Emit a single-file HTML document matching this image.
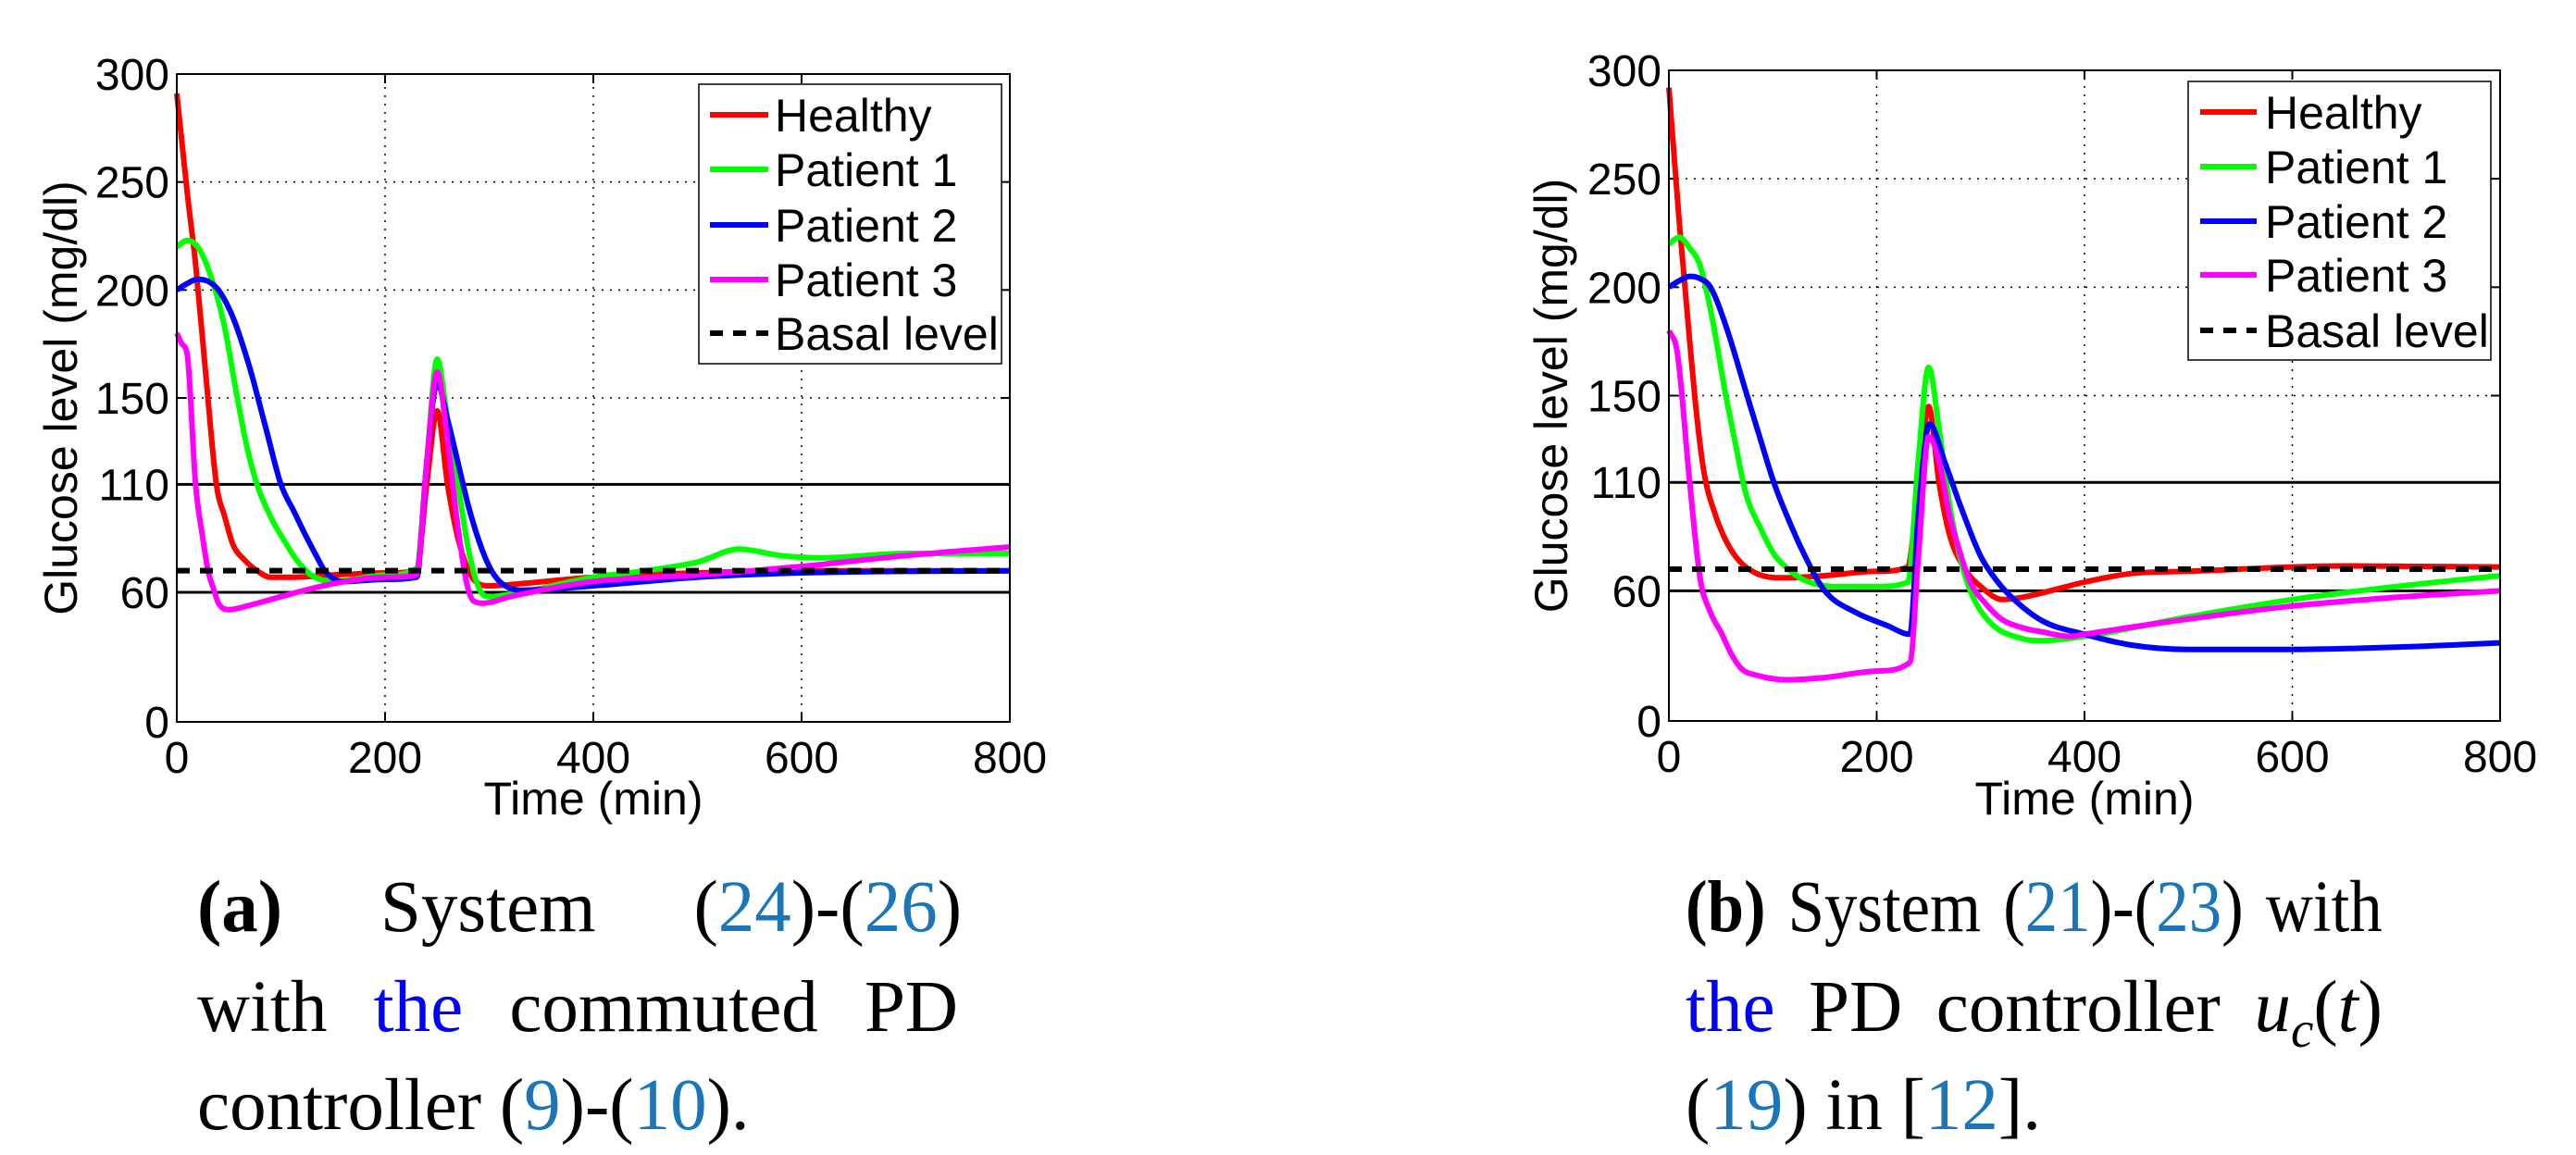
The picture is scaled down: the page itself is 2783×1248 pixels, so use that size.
<!DOCTYPE html>
<html><head><meta charset="utf-8"><style>
html,body{margin:0;padding:0;background:#fff;}
body{width:2783px;height:1248px;position:relative;overflow:hidden;}
svg{position:absolute;left:0;top:0;}
.cap{position:absolute;font-family:"Liberation Serif",serif;font-size:79px;color:#000;white-space:nowrap;line-height:1;}
.j{display:flex;justify-content:space-between;}
.ref{color:#1a76b8;}
.bl{color:#0000ff;}
</style></head><body>
<svg id="fig" width="2783" height="1248" xmlns="http://www.w3.org/2000/svg"></svg>

<div class="cap j" style="left:213px;top:941px;width:826px;"><span><b>(a)</b></span><span>System</span><span>(<span class="ref">24</span>)-(<span class="ref">26</span>)</span></div>
<div class="cap j" style="left:213px;top:1049px;width:822px;"><span>with</span><span class="bl">the</span><span>commuted</span><span>PD</span></div>
<div class="cap" style="left:213px;top:1155px;">controller (<span class="ref">9</span>)-(<span class="ref">10</span>).</div>

<div class="cap j" style="left:1821px;top:941px;width:840px;transform:scaleX(0.896);transform-origin:0 0;"><span><b>(b)</b></span><span>System</span><span>(<span class="ref">21</span>)-(<span class="ref">23</span>)</span><span>with</span></div>
<div class="cap j" style="left:1821px;top:1049px;width:753px;"><span class="bl">the</span><span>PD</span><span>controller</span><span><i>u<sub style="font-size:55px">c</sub></i>(<i>t</i>)</span></div>
<div class="cap" style="left:1821px;top:1155px;">(<span class="ref">19</span>) in [<span class="ref">12</span>].</div>

<script>
// ---- data ----
const xTicks = [0, 200, 400, 600, 800];
const yTicks = [0, 60, 110, 150, 200, 250, 300];
const gridY = [150, 200, 250];
const limitLines = [60, 110];
const basal = 70;
const seriesNames = ["Healthy", "Patient 1", "Patient 2", "Patient 3"];
const seriesColors = ["#ff0000", "#00ff00", "#0000ff", "#ff00ff"];

// Panel (a)
const aHealthyT = [0,10,18,28,38,46,54,65,77,90,110,150,200,230,240,250,260,270,285,300,330,400,500,600,700,800];
const aHealthyV = [291,245,212,160,110,95,82,75,70,67,67,68,69,70,110,144,110,85,66,63,64,67,69,70,70,70];
const aP1T = [0,10,20,30,45,57,67,77,90,103,115,129,150,200,230,240,250,260,270,280,290,300,330,400,450,500,540,580,620,700,800];
const aP1V = [220,223,220,210,185,153,128,110,95,84,75,68,65,68,71,120,168,140,110,80,62,58,60,67,70,74,80,77,76,78,78];
const aP2T = [0,10,20,30,40,55,70,85,100,113,123,135,142,160,200,230,232,240,250,260,270,280,290,300,310,330,400,500,600,800];
const aP2V = [200,203,205,204,200,186,164,137,110,97,87,76,70,65,66,67,70,120,157,140,120,100,84,72,65,61,63,67,69,70];
const aP3T = [0,5,10,18,25,30,35,40,50,70,100,150,200,230,240,250,260,270,278,285,295,320,400,500,600,700,800];
const aP3V = [180,175,170,110,85,70,62,55,52,54,58,64,67,68,120,162,130,90,65,56,55,58,65,68,72,77,81];

// Panel (b)
const bHealthyT = [0,10,20,27,34,44,54,64,74,90,110,150,200,230,240,250,260,270,285,300,321,340,400,445,500,600,650,800];
const bHealthyV = [292,230,175,140,114,96,84,76,71,67,66,67,69,71,110,145,110,86,70,62,56,57,64,68,69,71,71.5,71];
const bP1T = [0,10,20,30,42,54,64,74,88,101,115,130,160,200,230,240,250,260,270,280,290,310,340,356,400,500,600,700,800];
const bP1V = [220,223,218,210,185,152,128,105,89,77,70,65,62,62,64,120,163,135,100,76,60,45,38,37,39,48,56,62,67];
const bP2T = [0,10,20,30,40,55,74,88,101,115,128,150,180,210,232,240,251,265,280,300,315,330,360,400,445,500,600,700,800];
const bP2V = [200,203,205,204,200,182,152,130,110,93,79,60,50,44,40,95,137,120,100,76,65,57,46,40,35,33,33,34,36];
const bP3T = [0,8,20,30,40,50,60,70,85,113,150,200,232,240,250,260,270,280,290,305,320,340,360,386,400,500,600,700,800];
const bP3V = [180,170,110,66,50,41,31,24,21,19,20,23,27,75,131,120,95,78,64,54,47,43,41,39,40,47,53,57,60];

const panels = [
  {id:"a", x0:191, x1:1091, y0:780, y1:80, series:[[aHealthyT,aHealthyV],[aP1T,aP1V],[aP2T,aP2V],[aP3T,aP3V]],
   leg:{x:755,y:91,w:327,h:302,rows:[124,183,243,302,360],sx1:767,sx2:830,tx:837}, ylabCx:83, xlabY:880},
  {id:"b", x0:1803, x1:2701, y0:779, y1:76, series:[[bHealthyT,bHealthyV],[bP1T,bP1V],[bP2T,bP2V],[bP3T,bP3V]],
   leg:{x:2364,y:88,w:327,h:301,rows:[121,180,239,297,357],sx1:2377,sx2:2438,tx:2447}, ylabCx:1693, xlabY:880}
];

const NS = "http://www.w3.org/2000/svg";
const svg = document.getElementById("fig");
function mk(tag, attrs, parent){
  const e = document.createElementNS(NS, tag);
  for (const k in attrs) e.setAttribute(k, attrs[k]);
  (parent||svg).appendChild(e);
  return e;
}
function monoPath(xs, ys){
  const n = xs.length, m = [], d = [];
  for (let i=0;i<n-1;i++) d.push((ys[i+1]-ys[i])/(xs[i+1]-xs[i]));
  m[0]=d[0]; m[n-1]=d[n-2];
  for (let i=1;i<n-1;i++) m[i] = (d[i-1]*d[i] <= 0) ? 0 : (d[i-1]+d[i])/2;
  for (let i=0;i<n-1;i++){
    if (d[i]===0){ m[i]=0; m[i+1]=0; continue; }
    const a=m[i]/d[i], b=m[i+1]/d[i], s=a*a+b*b;
    if (s>9){ const t=3/Math.sqrt(s); m[i]=t*a*d[i]; m[i+1]=t*b*d[i]; }
  }
  let p = "M"+xs[0].toFixed(1)+","+ys[0].toFixed(1);
  for (let i=0;i<n-1;i++){
    const h=(xs[i+1]-xs[i])/3;
    p += " C"+(xs[i]+h).toFixed(1)+","+(ys[i]+m[i]*h).toFixed(1)+" "+(xs[i+1]-h).toFixed(1)+","+(ys[i+1]-m[i+1]*h).toFixed(1)+" "+xs[i+1].toFixed(1)+","+ys[i+1].toFixed(1);
  }
  return p;
}

panels.forEach(p => {
  const sx = t => p.x0 + (t/800)*(p.x1-p.x0);
  const sy = v => p.y0 - (v/300)*(p.y0-p.y1);
  const g = mk("g", {});
  
  

  xTicks.slice(1,-1).forEach(t => {
    const l = mk("line",{x1:sx(t),x2:sx(t),y1:p.y0,y2:p.y1,stroke:"#000","stroke-width":1.5,"stroke-dasharray":"2,7"},g);
    
    
  });
  gridY.forEach(v => {
    const l = mk("line",{x1:p.x0,x2:p.x1,y1:sy(v),y2:sy(v),stroke:"#000","stroke-width":1.5,"stroke-dasharray":"2,7"},g);
    
    
  });
  xTicks.forEach(t => {
    mk("line",{x1:sx(t),x2:sx(t),y1:p.y0,y2:p.y0-10,stroke:"#000","stroke-width":2},g);
    mk("line",{x1:sx(t),x2:sx(t),y1:p.y1,y2:p.y1+10,stroke:"#000","stroke-width":2},g);
    const tx = mk("text",{x:sx(t),y:p.y0+55,"text-anchor":"middle","font-family":"Liberation Sans, sans-serif","font-size":48},g);
    tx.textContent = t;
    
    
  });
  yTicks.forEach(v => {
    mk("line",{x1:p.x0,x2:p.x0+10,y1:sy(v),y2:sy(v),stroke:"#000","stroke-width":2},g);
    mk("line",{x1:p.x1,x2:p.x1-10,y1:sy(v),y2:sy(v),stroke:"#000","stroke-width":2},g);
    const tx = mk("text",{x:p.x0-8,y:sy(v)+17,"text-anchor":"end","font-family":"Liberation Sans, sans-serif","font-size":48},g);
    tx.textContent = v;
    
    
  });
  limitLines.forEach(v => {
    const l = mk("line",{x1:p.x0,x2:p.x1,y1:sy(v),y2:sy(v),stroke:"#000","stroke-width":3},g);
    
    
  });
  p.series.forEach((s, i) => {
    const d = monoPath(s[0].map(sx), s[1].map(sy));
    const path = mk("path",{d:d,fill:"none",stroke:seriesColors[i],"stroke-width":6,"stroke-linejoin":"round"},g);
    
    
  });
  const b = mk("line",{x1:p.x0,x2:p.x1,y1:sy(basal),y2:sy(basal),stroke:"#000","stroke-width":6,"stroke-dasharray":"14,11"},g);
  
  
  const box = mk("rect",{x:p.x0,y:p.y1,width:p.x1-p.x0,height:p.y0-p.y1,fill:"none",stroke:"#000","stroke-width":2},g);
  
  
  const xl = mk("text",{x:(p.x0+p.x1)/2,y:p.xlabY,"text-anchor":"middle","font-family":"Liberation Sans, sans-serif","font-size":50},g);
  xl.textContent = "Time (min)";
  
  
  const cy = (p.y0+p.y1)/2;
  const yl = mk("text",{x:0,y:0,"text-anchor":"middle","font-family":"Liberation Sans, sans-serif","font-size":50,transform:"translate("+p.ylabCx+","+cy+") rotate(-90)"},g);
  yl.textContent = "Glucose level (mg/dl)";
  
  
  const L = p.leg;
  const lg = mk("g",{},g);
  
  
  mk("rect",{x:L.x,y:L.y,width:L.w,height:L.h,fill:"#fff",stroke:"#000","stroke-width":1.5},lg);
  const labels = seriesNames.concat(["Basal level"]);
  labels.forEach((name, i) => {
    const isBasal = i === 4;
    const ln = mk("line",{x1:L.sx1,x2:L.sx2,y1:L.rows[i],y2:L.rows[i],stroke:isBasal?"#000":seriesColors[i],"stroke-width":6},lg);
    if (isBasal) ln.setAttribute("stroke-dasharray","14,11");
    
    
    const t = mk("text",{x:L.tx,y:L.rows[i]+18,"font-family":"Liberation Sans, sans-serif","font-size":50},lg);
    t.textContent = name;
    
    
  });
});
</script>
</body></html>
